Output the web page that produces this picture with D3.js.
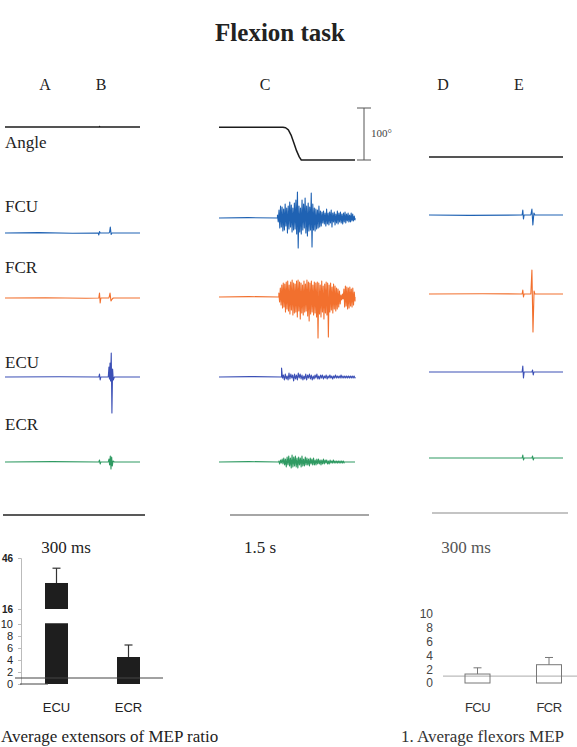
<!DOCTYPE html>
<html><head><meta charset="utf-8">
<script src="https://cdn.jsdelivr.net/npm/d3@7"></script>
<style>body{margin:0;background:#fff}svg{display:block}</style>
</head><body>
<svg id="c" width="577" height="747"></svg>
<script>
// ---------------- DATA ----------------
const title = "Flexion task";
const panelLetters = ["A", "B", "C", "D", "E"];
const channels = ["Angle", "FCU", "FCR", "ECU", "ECR"];
const timeLabels = ["300 ms", "1.5 s", "300 ms"];
const angleScaleLabel = "100°";
const angleScaleDeg = [0, 100];

// Column A/B (single pulses), [time %, amplitude]
const angleA = [[0,0],[69.8,0],[70,1],[70.3,0],[100,0]];
const fcuA = [[0,0],[25,0.4],[50,-0.3],[69,0],[69.5,-2],[70,1.5],[70.5,0],[77,0],[77.5,1],[78,6],[78.6,-1.5],[79.2,0],[100,0]];
const fcrA = [[0,0],[30,0.3],[60,-0.3],[69.5,0],[70,5],[70.5,-5],[71,0],[77,0],[77.8,5],[78.5,-3],[79.4,-1],[80.2,0],[100,0]];
const ecuA = [[0,0],[40,0.3],[69.5,0],[70,3],[70.5,-3],[71,0],[76.5,0],[77,10],[77.4,-2],[77.8,14],[78.2,-4],[78.7,24],[79.2,-36],[79.7,8],[80.2,-3],[81,0],[100,0]];
const ecrA = [[0,0],[35,0.4],[69.5,0],[70,2],[70.5,-2],[71,0],[76.5,0],[77,3],[77.5,-3],[78,6],[78.5,-7],[79,5],[79.5,-4],[80,1],[81,0],[100,0]];

// Column C (voluntary flexion, 1.5 s)
const angleC = [[0,63],[47,63],[49,62],[51,58],[53,48],[55,33],[57,18],[59,6],[60.5,0],[100,0]];
const fcuCSpan = [43, 100];
const fcuCBurst = [3,-4,8,-10,12,-9,11,-13,9,-12,14,-8,10,-15,12,-11,16,-9,13,-14,10,-12,15,-11,18,-16,
  26,-30,12,-14,10,-16,18,-12,14,-10,20,-15,12,-18,15,-13,11,-12,25,-29,
  14,-12,10,-13,9,-11,8,-10,12,-9,7,-8,
  6,-5,7,-6,5,-8,9,-6,5,-7,6,-5,8,-9,5,-4,6,-7,4,-5,7,-6,5,-4,6,-5,4,-6,5,-4,6,-5,4,-3,5,-4,3,-4,5,-3,4,-3,2,-2];
const fcrCSpan = [44, 100];
const fcrCBurst = [4,-5,9,-8,12,-11,14,-10,13,-15,15,-12,
  16,-14,12,-17,15,-13,17,-18,14,-16,13,-15,16,-20,17,-14,15,-22,14,-16,12,-18,16,-15,13,-14,17,-19,15,-24,14,-17,16,-15,12,-18,15,-16,14,-20,
  15,-41,14,-17,12,-20,16,-15,11,-22,13,-16,15,-18,14,-40,
  12,-15,14,-13,10,-16,13,-12,11,-14,9,-12,8,-10,6,-7,2,-3,3,-2,
  8,-10,11,-9,10,-12,9,-11,10,-9,8,-10,9,-8,5,-4];
const ecuCSpan = [46, 100];
const ecuCBurst = [9,-1,2,-3,3,-2,1,-3,4,-2,3,-1,2,-4,3,-2,2,-3,4,-1,3,-2,2,-3,1,-2,3,-3,2,-1,3,-2,2,-3,1,-2,2,-1,3,-2,
  1,-2,2,-1,2,-2,1,-1,2,-2,1,-1,2,-1,1,-2,1,-1,2,-1,1,-1,1,-1,2,-1,1,-1,1,-1,1,-1,1,-1,1,-1,1,-1,1,-1];
const ecrCSpan = [44, 92];
const ecrCBurst = [1,-2,2,-1,3,-2,4,-3,3,-5,5,-3,6,-4,4,-6,7,-5,5,-4,6,-5,4,-6,5,-3,4,-5,6,-4,3,-4,5,-3,4,-3,3,-4,4,-2,
  3,-3,4,-3,2,-3,3,-2,3,-2,2,-3,2,-2,3,-2,2,-1,2,-2,1,-2,2,-1,1,-1,2,-1,1,-1,1,-1,1,-1,1,-1,1,-1,1,-1];

// Column D/E
const angleDE = [[0,0],[100,0]];
const fcuDE = [[0,0],[30,-0.4],[69.5,0],[70,5],[70.5,-4],[71,0],[76,0],[76.8,6],[77.5,-10],[78.3,2],[79,0],[100,0]];
const fcrDE = [[0,0],[40,0.3],[69.5,0],[70,4],[70.5,-3],[71,0],[76,0],[76.8,24],[77.6,-38],[78.4,3],[79,0],[100,0]];
const ecuDE = [[0,0],[69.5,0],[70,6],[70.5,-6],[71,0],[76.8,0],[77.3,2],[77.8,-3],[78.3,0],[100,0]];
const ecrDE = [[0,0],[69.5,0],[70,3],[70.5,-2],[71,0],[76.8,0],[77.3,2],[77.8,-2],[78.3,0],[100,0]];

// Bar charts (MEP ratio)
const extCats = ["ECU", "ECR"];
const extMeans = [31.3, 4.5];
const extErrTop = [40, 6.5];
const extTicks = [0, 2, 4, 6, 8, 10, 16, 46];
const extCaption = "Average extensors of MEP ratio";
const flxCats = ["FCU", "FCR"];
const flxMeans = [1.3, 2.65];
const flxErrTop = [2.2, 3.7];
const flxTicks = [0, 2, 4, 6, 8, 10];
const flxCaption = "1. Average flexors MEP";

// ---------------- LAYOUT ----------------
const svg = d3.select("#c");
const serif = "'Liberation Serif','Times New Roman',Times,serif";
const sans = "'Liberation Sans',Arial,Helvetica,sans-serif";
const colors = { Angle: "#1c1c1c", FCU: "#1f62b3", FCR: "#f2702e", ECU: "#3c50b6", ECR: "#2f9a62" };
const colX = [[5, 140], [219, 355], [429, 563]];
const rowY = [[127, 233, 298, 377, 462], [160, 218, 297, 377, 462], [157, 215, 294, 372, 458]];
const colTimeLabelX = [66, 260, 466];
const timeBars = [[3, 145, 515, "#222"], [230, 369, 515, "#888"], [432, 568, 513, "#b0b0b0"]];

function burst(span, vals) {
  const t = d3.scaleLinear().domain([0, vals.length - 1]).range(span);
  const pts = [[0, 0], [span[0] * 0.5, 0.4], [span[0], 0]];
  vals.forEach((v, i) => pts.push([t(i), v]));
  pts.push([span[1], 0]);
  if (span[1] < 100) pts.push([100, 0]);
  return pts;
}
const traces = [
  [angleA, fcuA, fcrA, ecuA, ecrA],
  [angleC, burst(fcuCSpan, fcuCBurst), burst(fcrCSpan, fcrCBurst), burst(ecuCSpan, ecuCBurst), burst(ecrCSpan, ecrCBurst)],
  [angleDE, fcuDE, fcrDE, ecuDE, ecrDE]
];

// title
svg.append("text").attr("x", 280).attr("y", 41).attr("text-anchor", "middle")
  .attr("font-family", serif).attr("font-weight", "bold").attr("font-size", 25).attr("fill", "#222").text(title);

// panel letters
const letterX = [45, 101, 265, 443, 519];
panelLetters.forEach((p, i) => {
  svg.append("text").attr("x", letterX[i]).attr("y", 90).attr("text-anchor", "middle")
    .attr("font-family", serif).attr("font-size", 16).attr("fill", "#222").text(p);
});

// channel labels
const labelY = [148, 212, 273, 368, 430];
channels.forEach((c, i) => {
  svg.append("text").attr("x", 5).attr("y", labelY[i]).attr("font-family", serif)
    .attr("font-size", 17).attr("fill", "#222").text(c);
});

// traces
traces.forEach((col, ci) => {
  const x = d3.scaleLinear().domain([0, 100]).range(colX[ci]);
  col.forEach((data, ri) => {
    const base = rowY[ci][ri];
    const y = ri === 0
      ? d3.scaleLinear().domain([0, 100]).range([base, base - 52])
      : d3.scaleLinear().domain([-1, 1]).range([base + 1, base - 1]);
    const line = d3.line().x(d => x(d[0])).y(d => y(d[1]));
    svg.append("path").datum(data).attr("d", line).attr("fill", "none")
      .attr("stroke", colors[channels[ri]]).attr("stroke-width", ri === 0 ? 1.5 : 1.1)
      .attr("stroke-linejoin", "round");
    if (ci === 1 && ri === 0) {
      const sx = 364;
      svg.append("line").attr("x1", sx).attr("x2", sx).attr("y1", y(angleScaleDeg[0])).attr("y2", y(angleScaleDeg[1]))
        .attr("stroke", "#555").attr("stroke-width", 1);
      angleScaleDeg.forEach(v => svg.append("line").attr("x1", sx - 7).attr("x2", sx + 7)
        .attr("y1", y(v)).attr("y2", y(v)).attr("stroke", "#555").attr("stroke-width", 1));
      svg.append("text").attr("x", sx + 7).attr("y", y(50) + 3).attr("font-family", serif)
        .attr("font-size", 11).attr("fill", "#444").text(angleScaleLabel);
    }
  });
});

// time bars and labels
timeBars.forEach((b, i) => {
  svg.append("line").attr("x1", b[0]).attr("x2", b[1]).attr("y1", b[2]).attr("y2", b[2])
    .attr("stroke", b[3]).attr("stroke-width", 1.5);
  svg.append("text").attr("x", colTimeLabelX[i]).attr("y", 553).attr("text-anchor", "middle")
    .attr("font-family", serif).attr("font-size", 17).attr("fill", i === 2 ? "#555" : "#222").text(timeLabels[i]);
});

// ---------------- LEFT BAR CHART ----------------
const yE = d3.scaleLinear().domain([0, 10, 16, 46]).range([684, 624, 609, 558]);
const xE = d3.scalePoint().domain(extCats).range([56.5, 128.5]);
const bwE = 23;
const axE = svg.append("g").attr("transform", "translate(21,0)")
  .call(d3.axisLeft(yE).tickValues(extTicks).tickSize(3).tickPadding(5));
axE.select(".domain").attr("stroke", "#bbb");
axE.selectAll(".tick line").attr("stroke", "#bbb");
axE.selectAll(".tick text").attr("font-family", sans).attr("font-size", 11).attr("fill", "#222")
  .filter(d => d > 10).attr("font-weight", "bold").attr("font-size", 10);

extCats.forEach((c, i) => {
  const cx = xE(c);
  svg.append("line").attr("x1", cx).attr("x2", cx).attr("y1", yE(extMeans[i])).attr("y2", yE(extErrTop[i]))
    .attr("stroke", "#333").attr("stroke-width", 1.2);
  svg.append("line").attr("x1", cx - 4).attr("x2", cx + 4).attr("y1", yE(extErrTop[i])).attr("y2", yE(extErrTop[i]))
    .attr("stroke", "#333").attr("stroke-width", 1.2);
  svg.append("rect").attr("x", cx - bwE / 2).attr("width", bwE).attr("y", yE(extMeans[i]))
    .attr("height", yE(0) - yE(extMeans[i])).attr("fill", "#1e1e1e");
  svg.append("text").attr("x", cx).attr("y", 712).attr("text-anchor", "middle")
    .attr("font-family", sans).attr("font-size", 13).attr("fill", "#222").text(c);
});
svg.append("rect").attr("x", 30).attr("width", 60).attr("y", yE(16)).attr("height", yE(10.3) - yE(16)).attr("fill", "#fff");
svg.append("line").attr("x1", 20).attr("x2", 48).attr("y1", yE(0)).attr("y2", yE(0)).attr("stroke", "#444");
svg.append("line").attr("x1", 15).attr("x2", 163).attr("y1", yE(1)).attr("y2", yE(1)).attr("stroke", "#444");

svg.append("text").attr("x", 1).attr("y", 742)
  .attr("font-family", serif).attr("font-size", 17).attr("fill", "#222").text(extCaption);

// ---------------- RIGHT BAR CHART ----------------
const yF = d3.scaleLinear().domain([0, 10]).range([683, 614]);
const xF = d3.scalePoint().domain(flxCats).range([477.5, 549]);
const bwF = 25;
const axF = svg.append("g").attr("transform", "translate(441,0)")
  .call(d3.axisLeft(yF).tickValues(flxTicks).tickSize(0).tickPadding(8));
axF.select(".domain").remove();
axF.selectAll(".tick text").attr("font-family", sans).attr("font-size", 12).attr("fill", "#444");

svg.append("line").attr("x1", 443).attr("x2", 577).attr("y1", yF(1)).attr("y2", yF(1)).attr("stroke", "#aaa");
flxCats.forEach((c, i) => {
  const cx = xF(c);
  svg.append("rect").attr("x", cx - bwF / 2).attr("width", bwF).attr("y", yF(flxMeans[i]))
    .attr("height", yF(0) - yF(flxMeans[i])).attr("fill", "none").attr("stroke", "#777").attr("stroke-width", 1);
  svg.append("line").attr("x1", cx).attr("x2", cx).attr("y1", yF(flxMeans[i])).attr("y2", yF(flxErrTop[i]))
    .attr("stroke", "#777");
  svg.append("line").attr("x1", cx - 4).attr("x2", cx + 4).attr("y1", yF(flxErrTop[i])).attr("y2", yF(flxErrTop[i]))
    .attr("stroke", "#777");
  svg.append("text").attr("x", cx).attr("y", 712).attr("text-anchor", "middle")
    .attr("font-family", sans).attr("font-size", 13).attr("fill", "#333").attr("letter-spacing", -0.5).text(c);
});
svg.append("text").attr("x", 401).attr("y", 742)
  .attr("font-family", serif).attr("font-size", 17).attr("fill", "#333").text(flxCaption);
</script>
</body></html>
